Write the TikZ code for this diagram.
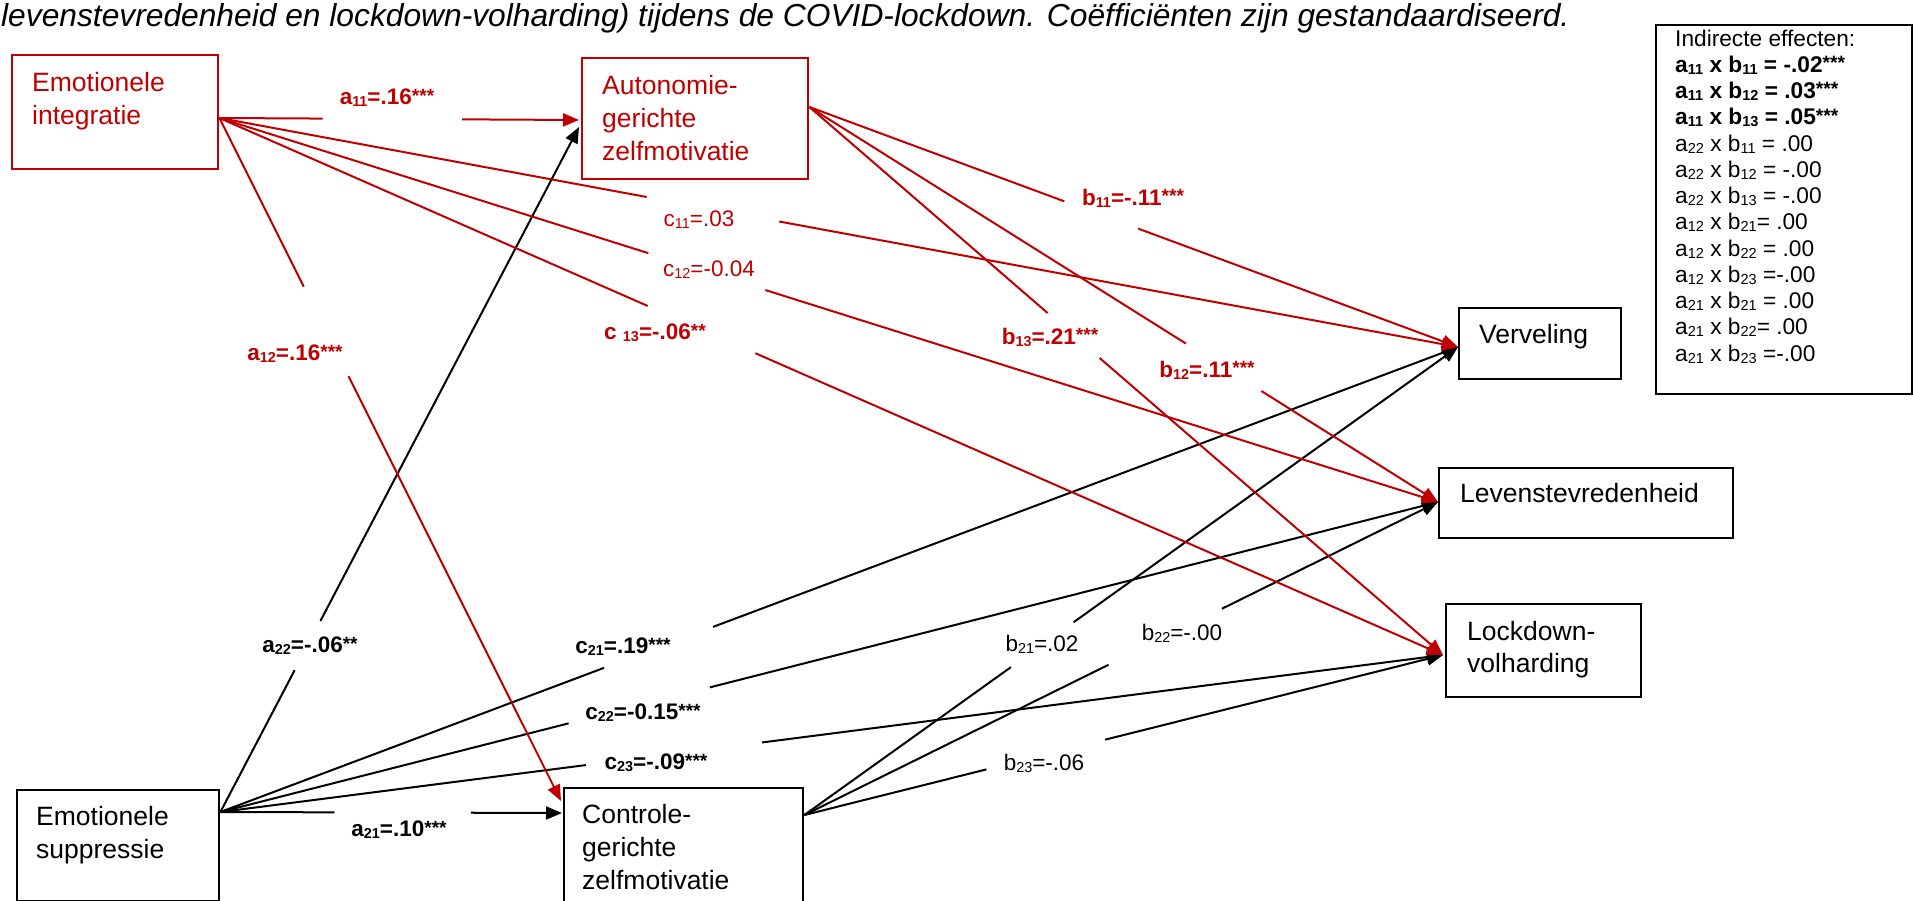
\documentclass[tikz,border=0pt]{standalone}
\usepackage{fontspec}
\usepackage{graphicx}
\setmainfont{Liberation Sans}
\usetikzlibrary{arrows.meta,calc}
\definecolor{dred}{RGB}{192,0,0}
\newcommand{\gapline}[5]{%
  \draw[#1] (#2) -- ($(#2)!#4!(#3)$);
  \draw[#1,tip] ($(#2)!#5!(#3)$) -- (#3);}
\newcommand{\tightls}{\lineskiplimit=-50pt\relax\lineskip=0pt\relax}
\newcommand{\sbs}[1]{\raisebox{-0.09em}{\scalebox{0.64}{#1}}}
\newcommand{\sps}[1]{\raisebox{0.12em}{\scalebox{0.85}{#1}}}
\begin{document}
\begin{tikzpicture}[x=1pt,y=-1pt,
  box/.style={draw, line width=2.4pt, anchor=north west, inner sep=0pt},
  boxtext/.style={anchor=north west, inner sep=0pt, align=left, font=\fontsize{26.5}{33}\selectfont},
  lab/.style={inner sep=0pt, font=\fontsize{22.5}{27}\selectfont},
  blab/.style={inner sep=0pt, font=\fontsize{22.5}{27}\selectfont\bfseries},
  conn/.style={line width=2pt},
  tip/.style={-{Triangle[length=16pt,width=13pt]}}]
\useasboundingbox (0,0) rectangle (1913,901);
\clip (0,0) rectangle (1913,901);
\fill[white] (0,0) rectangle (1913,901);

% title
\node[anchor=base west, inner sep=0pt, font=\itshape\fontsize{31.75}{36}\selectfont] (title) at (1,27)
  {levenstevredenheid en lockdown-volharding) tijdens de COVID-lockdown. Coëfficiënten zijn gestandaardiseerd.};

% boxes
\node[box, draw=dred, minimum width=206pt, minimum height=114pt] (EI) at (11,54) {};
\node[boxtext, text=dred] (EIt) at (32,71.7) {Emotionele\\integratie};
\node[box, draw=dred, minimum width=226pt, minimum height=121pt] (A) at (581,57) {};
\node[boxtext, text=dred] (At) at (602,74.7) {Autonomie-\\gerichte\\zelfmotivatie};
\node[box, minimum width=202pt, minimum height=111pt] (ES) at (16,789) {};
\node[boxtext] (ESt) at (36,805.7) {Emotionele\\suppressie};
\node[box, minimum width=239pt, minimum height=140pt] (C) at (563,787) {};
\node[boxtext] (Ct) at (582,803.7) {Controle-\\gerichte\\zelfmotivatie};
\node[box, minimum width=162pt, minimum height=71pt] (V) at (1458,307) {};
\node[boxtext] (Vt) at (1479,323.7) {Verveling};
\node[box, minimum width=294pt, minimum height=70pt] (L) at (1438,467) {};
\node[boxtext] (Lt) at (1460,482.7) {Levenstevredenheid};
\node[box, minimum width=195pt, minimum height=93pt] (K) at (1445,603) {};
\node[boxtext, font=\fontsize{26.5}{32.5}\selectfont] (Kt) at (1467,620.7) {Lockdown-\\volharding};

% indirect effects
\node[box, line width=2pt, minimum width=256pt, minimum height=369pt] (IE) at (1655,24) {};
\node[anchor=north west, inner sep=0pt, align=left,
      font={\fontsize{22.7}{26.25}\selectfont\tightls}] (IEt) at (1675,29.5) {%
Indirecte effecten:\\
\textbf{a\sbs{11} x b\sbs{11} = -.02\sps{***}}\\
\textbf{a\sbs{11} x b\sbs{12} = .03\sps{***}}\\
\textbf{a\sbs{11} x b\sbs{13} = .05\sps{***}}\\
a\sbs{22} x b\sbs{11} = .00\\
a\sbs{22} x b\sbs{12} = -.00\\
a\sbs{22} x b\sbs{13} = -.00\\
a\sbs{12} x b\sbs{21}= .00\\
a\sbs{12} x b\sbs{22} = .00\\
a\sbs{12} x b\sbs{23} =-.00\\
a\sbs{21} x b\sbs{21} = .00\\
a\sbs{21} x b\sbs{22}= .00\\
a\sbs{21} x b\sbs{23} =-.00};

% connector end points
\coordinate (EIo) at ($(EI.north east)+(0,64)$);
\coordinate (Ao)  at ($(A.north east)+(0,50)$);
\coordinate (ESo) at ($(ES.north east)+(0,23)$);
\coordinate (Co)  at ($(C.north east)+(0,28)$);
\coordinate (Ai1) at ($(A.north west)+(-2,63)$);
\coordinate (Ai2) at ($(A.north west)+(-2,70)$);
\coordinate (Ci1) at ($(C.north west)+(-1,26)$);
\coordinate (Ci2) at ($(C.north west)+(-2,14)$);
\coordinate (Vi)  at ($(V.north west)+(0,40)$);
\coordinate (Li)  at ($(L.north west)+(0,35)$);
\coordinate (Ki)  at ($(K.north west)+(-2,52)$);

% black connectors
\gapline{conn}{ESo}{Ai2}{0.207}{0.279}
\gapline{conn}{ESo}{Ci1}{0.334}{0.733}
\gapline{conn}{ESo}{Vi}{0.310}{0.398}
\gapline{conn}{ESo}{Li}{0.286}{0.402}
\gapline{conn}{ESo}{Ki}{0.299}{0.443}
\gapline{conn}{Co}{Vi}{0.316}{0.412}
\gapline{conn}{Co}{Li}{0.480}{0.659}
\gapline{conn}{Co}{Ki}{0.285}{0.471}
% red connectors
\gapline{conn,dred}{EIo}{Ai1}{0.287}{0.675}
\gapline{conn,dred}{EIo}{Vi}{0.345}{0.452}
\gapline{conn,dred}{EIo}{Li}{0.352}{0.448}
\gapline{conn,dred}{EIo}{Ki}{0.350}{0.438}
\gapline{conn,dred}{EIo}{Ci2}{0.247}{0.378}
\gapline{conn,dred}{Ao}{Vi}{0.393}{0.507}
\gapline{conn,dred}{Ao}{Li}{0.599}{0.719}
\gapline{conn,dred}{Ao}{Ki}{0.376}{0.458}

% labels
\node[blab, text=dred] (la11) at (387,98) {a\sbs{11}=.16\sps{***}};
\node[lab, text=dred] (lc11) at (699,220) {c\sbs{11}=.03};
\node[lab, text=dred] (lc12) at (709,270) {c\sbs{12}=-0.04};
\node[blab, text=dred] (lc13) at (655,333) {c \sbs{13}=-.06\sps{**}};
\node[blab, text=dred] (la12) at (295,354) {a\sbs{12}=.16\sps{***}};
\node[blab, text=dred] (lb11) at (1133,198) {b\sbs{11}=-.11\sps{***}};
\node[blab, text=dred] (lb12) at (1207,370) {b\sbs{12}=.11\sps{***}};
\node[blab, text=dred] (lb13) at (1050,337) {b\sbs{13}=.21\sps{***}};
\node[blab] (la22) at (310,646) {a\sbs{22}=-.06\sps{**}};
\node[blab] (la21) at (399,830) {a\sbs{21}=.10\sps{***}};
\node[blab] (lc21) at (623,647) {c\sbs{21}=.19\sps{***}};
\node[blab] (lc22) at (643,713) {c\sbs{22}=-0.15\sps{***}};
\node[blab] (lc23) at (656,763) {c\sbs{23}=-.09\sps{***}};
\node[lab] (lb21) at (1042,644) {b\sbs{21}=.02};
\node[lab] (lb22) at (1182,633) {b\sbs{22}=-.00};
\node[lab] (lb23) at (1044,763) {b\sbs{23}=-.06};
\end{tikzpicture}
\end{document}
